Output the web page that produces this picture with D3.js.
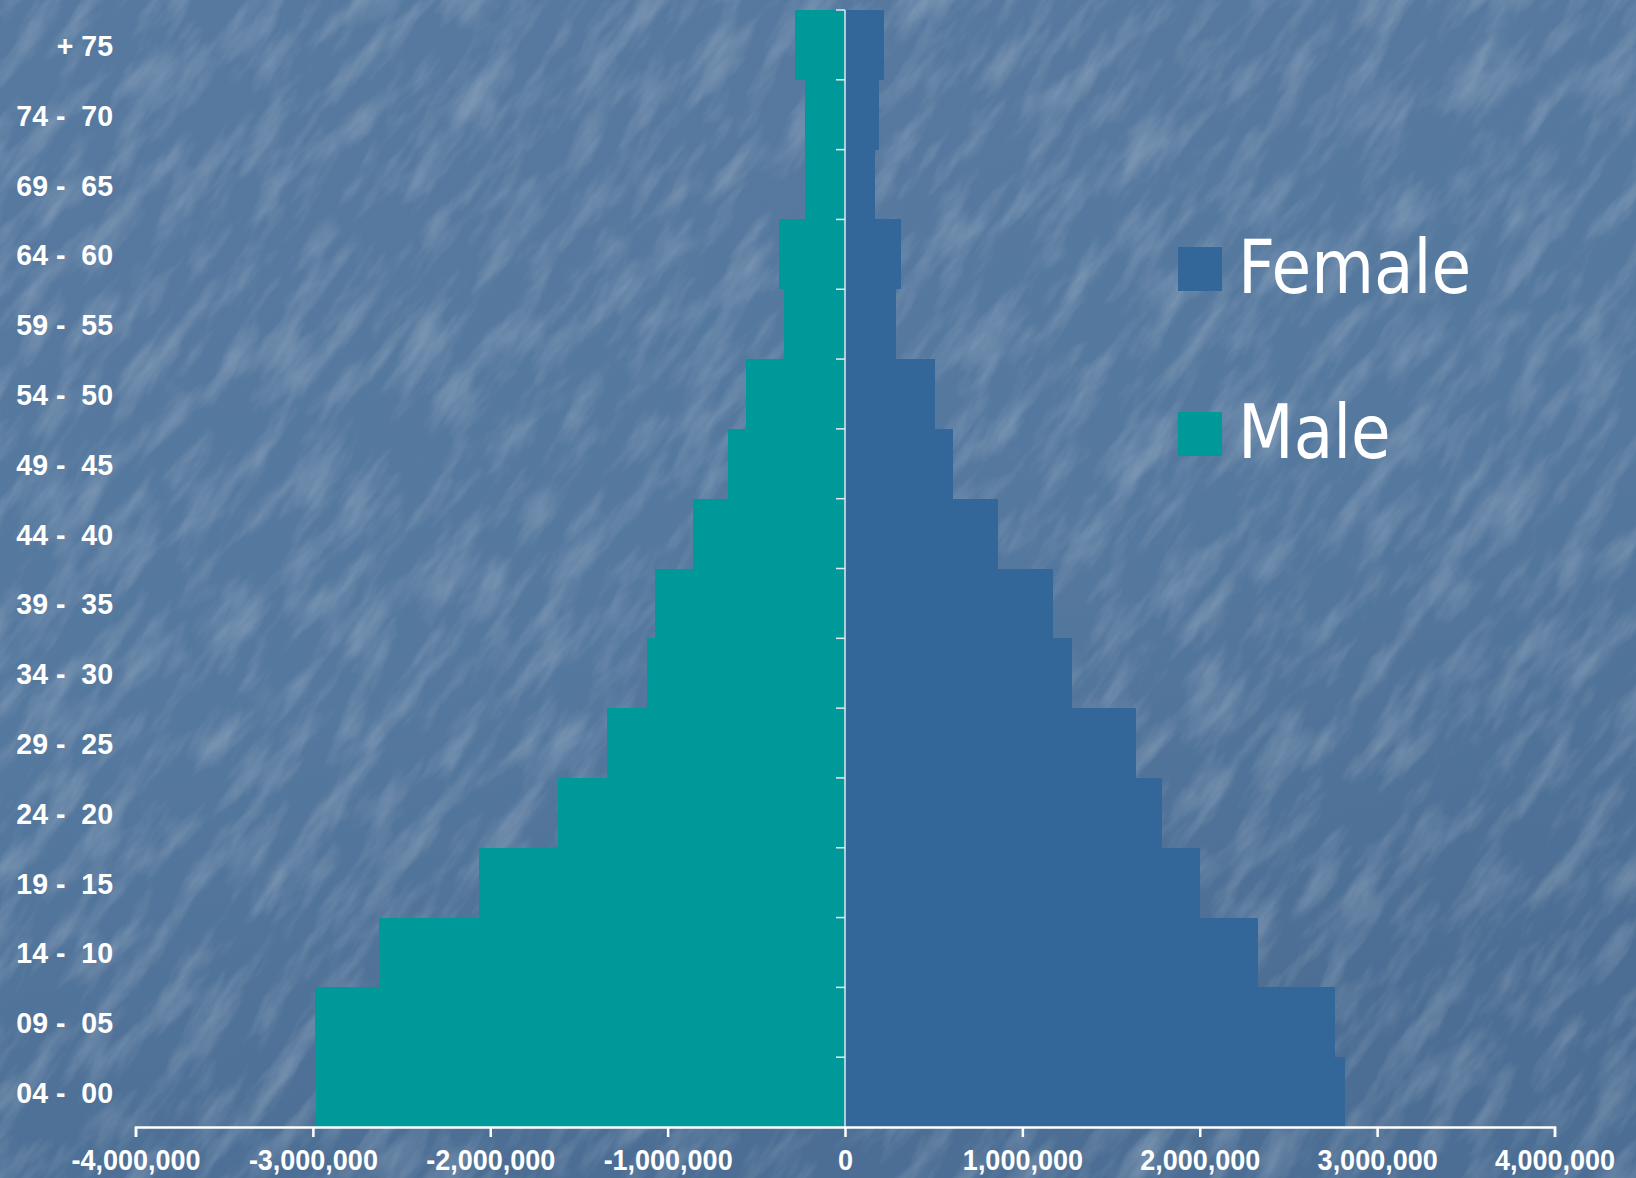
<!DOCTYPE html>
<html>
<head>
<meta charset="utf-8">
<script src="https://cdn.jsdelivr.net/npm/d3@7/dist/d3.min.js"></script>
<style>
  html, body { margin: 0; padding: 0; background: #56799f; }
  svg { display: block; }
</style>
</head>
<body>
<svg id="chart" width="1636" height="1178"></svg>
<script>
// ---- data ----
const ageGroups = ["+ 75", "74 -  70", "69 -  65", "64 -  60", "59 -  55", "54 -  50", "49 -  45", "44 -  40",
                   "39 -  35", "34 -  30", "29 -  25", "24 -  20", "19 -  15", "14 -  10", "09 -  05", "04 -  00"];
const maleValues = [-282000, -225000, -225000, -370000, -342000, -558000, -658000, -855000,
                    -1071000, -1114000, -1341000, -1617000, -2062000, -2625000, -2986000, -2982000];
const femaleValues = [220000, 192000, 171000, 316000, 287000, 508000, 610000, 863000,
                      1171000, 1279000, 1640000, 1787000, 2001000, 2327000, 2761000, 2818000];
const xTickValues = [-4000000, -3000000, -2000000, -1000000, 0, 1000000, 2000000, 3000000, 4000000];
const xTickLabels = ["-4,000,000", "-3,000,000", "-2,000,000", "-1,000,000", "0",
                     "1,000,000", "2,000,000", "3,000,000", "4,000,000"];
const seriesNames = ["Female", "Male"];
const seriesColors = ["#336699", "#009999"];

// ---- layout ----
const W = 1636, H = 1178;
const svg = d3.select("#chart");

// background with texture
const defs = svg.append("defs");
const bgGrad = defs.append("linearGradient").attr("id", "bgGrad")
  .attr("x1", 0).attr("y1", 0).attr("x2", 0.3).attr("y2", 1);
bgGrad.append("stop").attr("offset", "0%").attr("stop-color", "#57799f");
bgGrad.append("stop").attr("offset", "60%").attr("stop-color", "#55789e");
bgGrad.append("stop").attr("offset", "100%").attr("stop-color", "#4c6e94");

const filt = defs.append("filter").attr("id", "tex")
  .attr("x", 0).attr("y", 0).attr("width", 1).attr("height", 1)
  .attr("filterUnits", "objectBoundingBox");
filt.append("feTurbulence").attr("type", "fractalNoise")
  .attr("baseFrequency", "0.045 0.012").attr("numOctaves", 4).attr("seed", 11).attr("result", "n");
filt.append("feColorMatrix").attr("type", "matrix")
  .attr("values", "0 0 0 0 1  0 0 0 0 1  0 0 0 0 1  2.0 0 0 0 -0.85");

svg.append("rect").attr("width", W).attr("height", H).attr("fill", "url(#bgGrad)");
svg.append("g")
  .attr("transform", `rotate(35 ${W/2} ${H/2})`)
  .append("rect")
  .attr("x", -600).attr("y", -600).attr("width", W + 1200).attr("height", H + 1200)
  .attr("filter", "url(#tex)").attr("opacity", 0.22);

// scales
const x = d3.scaleLinear().domain([-4000000, 4000000]).range([135.5, 1554.5]);
const y = d3.scaleBand().domain(ageGroups).range([10, 1127]).padding(0);

// bars
const rows = ageGroups.map((g, i) => ({ g, m: maleValues[i], f: femaleValues[i] }));
const gBars = svg.append("g");
gBars.selectAll("rect.male").data(rows).join("rect").attr("class", "male")
  .attr("x", d => x(d.m)).attr("width", d => x(0) - x(d.m))
  .attr("y", d => y(d.g)).attr("height", y.bandwidth())
  .attr("fill", seriesColors[1]).attr("shape-rendering", "crispEdges");
gBars.selectAll("rect.female").data(rows).join("rect").attr("class", "female")
  .attr("x", x(0)).attr("width", d => x(d.f) - x(0))
  .attr("y", d => y(d.g)).attr("height", y.bandwidth())
  .attr("fill", seriesColors[0]).attr("shape-rendering", "crispEdges");

// vertical category axis (line + boundary ticks)
const gY = svg.append("g");
gY.append("line").attr("x1", x(0)).attr("x2", x(0)).attr("y1", y.range()[0]).attr("y2", y.range()[1])
  .attr("stroke", "#dfeaf0").attr("stroke-width", 1.5);
const bounds = ageGroups.map(g => y(g));
gY.selectAll("line.tk").data(bounds).join("line").attr("class", "tk")
  .attr("x1", x(0) - 9).attr("x2", x(0)).attr("y1", d => d).attr("y2", d => d)
  .attr("stroke", "#dfeaf0").attr("stroke-width", 1.5);

// category labels
svg.append("g").selectAll("text").data(ageGroups).join("text")
  .attr("transform", d => `translate(113, ${y(d) + y.bandwidth() / 2 + 11}) scale(0.95,1)`)
  .attr("text-anchor", "end")
  .attr("xml:space", "preserve")
  .style("white-space", "pre")
  .attr("font-family", "'Liberation Sans', Arial, sans-serif")
  .attr("font-weight", "bold").attr("font-size", 30).attr("fill", "#ffffff")
  .text(d => d);

// x axis
const xAxis = d3.axisBottom(x).tickValues(xTickValues).tickSize(10)
  .tickFormat((d, i) => xTickLabels[i]);
const gX = svg.append("g").attr("transform", "translate(0,1127)").call(xAxis);
gX.select(".domain").attr("stroke", "#ffffff").attr("stroke-width", 2.5);
gX.selectAll(".tick line").attr("stroke", "#ffffff").attr("stroke-width", 2.5);
gX.selectAll(".tick text")
  .attr("y", 0).attr("dy", 0)
  .attr("transform", "translate(0,43) scale(0.9,1)")
  .attr("font-family", "'Liberation Sans', Arial, sans-serif")
  .attr("font-weight", "bold").attr("font-size", 30).attr("fill", "#ffffff");

// legend
const legend = svg.append("g");
const legY = [247, 412];
seriesNames.forEach((name, i) => {
  legend.append("rect").attr("x", 1178).attr("y", legY[i]).attr("width", 44).attr("height", 44)
    .attr("fill", seriesColors[i]);
  legend.append("text")
    .attr("transform", `translate(1238, ${legY[i] + 46}) scale(0.86,1)`)
    .attr("font-family", "'DejaVu Sans', Verdana, sans-serif")
    .attr("font-size", 75).attr("fill", "#ffffff")
    .text(name);
});
</script>
</body>
</html>
